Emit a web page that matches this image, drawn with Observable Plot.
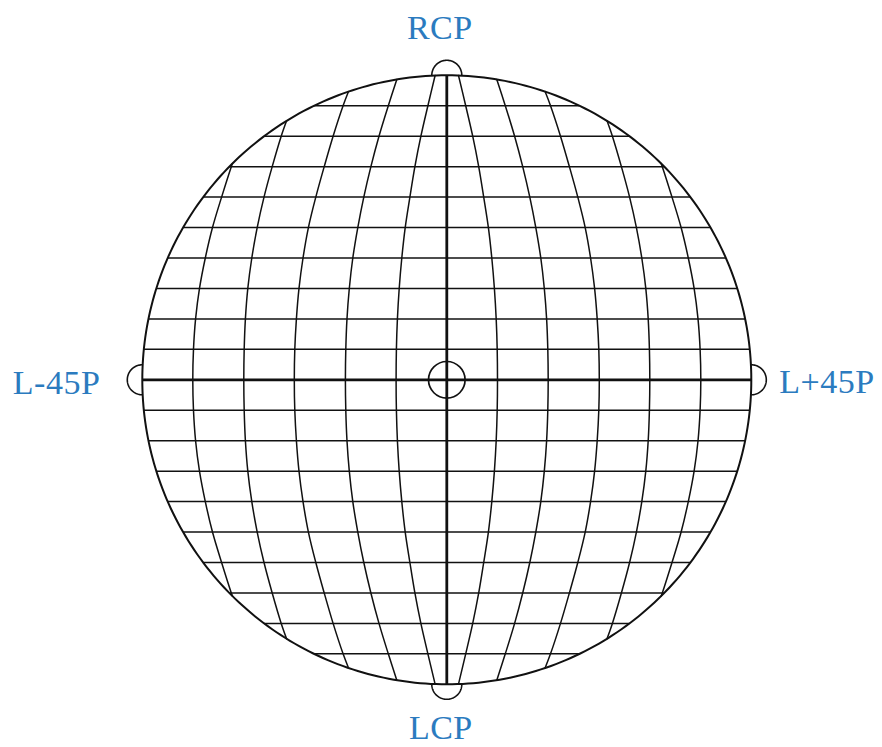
<!DOCTYPE html>
<html><head><meta charset="utf-8">
<script src="https://cdn.jsdelivr.net/npm/d3@7"></script>
<script src="https://cdn.jsdelivr.net/npm/@observablehq/plot@0.6"></script>
<style>html,body{margin:0;padding:0;background:#fff}#chart svg{display:block}</style>
</head><body><div id="chart"></div>
<script>
// Poles of the sphere (unit radius) and their labels
const poleNames = ["RCP", "LCP", "L-45P", "L+45P"];
const poleX = [0, 0, -1, 1];
const poleY = [1, -1, 0, 0];
const centerX = [0];
const centerY = [0];

// Horizontal grid lines (constant S3), in units of the radius
const parallelLevels = [-0.9, -0.8, -0.7, -0.6, -0.5, -0.4, -0.3, -0.2, -0.1, 0.1, 0.2, 0.3, 0.4, 0.5, 0.6, 0.7, 0.8, 0.9];

// Vertical grid curves: horizontal offset read at heights 0, 0.1, 0.2, ... (units of radius)
const curveLevels = [0, 0.1, 0.2, 0.3, 0.4, 0.5, 0.6, 0.7, 0.8, 0.9];
const curve1 = [0.1665, 0.1655, 0.1622, 0.1563, 0.1478, 0.1366, 0.1212, 0.1048, 0.0851, 0.0621];
const curve2 = [0.3330, 0.3317, 0.3278, 0.3202, 0.3087, 0.2923, 0.2726, 0.2493, 0.2227, 0.1921];
const curve3 = [0.5008, 0.4992, 0.4939, 0.4854, 0.4722, 0.4545, 0.4302, 0.4026, 0.3734, 0.3406];
const curve4 = [0.6667, 0.6654, 0.6614, 0.6535, 0.6404, 0.6227, 0.6003, 0.5734, 0.5438];
const curve5 = [0.8342, 0.8319, 0.8250, 0.8122, 0.7931, 0.7695, 0.7396, 0.7077];
// Where each curve meets the outer circle
const curveEndX = [0.0384, 0.1642, 0.3228, 0.5261, 0.7041];
const curveEndY = [0.9993, 0.9864, 0.9465, 0.8504, 0.7101];

// ---- build mark data ----
const R = 304.5, CX = 446.3, CY = 379.3, W = 882, H = 747;
const curves = [curve1, curve2, curve3, curve4, curve5];
const curvePts = [];
curves.forEach((vals, k) => {
  [1, -1].forEach(s => {
    const id = k + "_" + s;
    const pts = [];
    pts.push({x: s * curveEndX[k], y: -curveEndY[k]});
    for (let i = vals.length - 1; i >= 1; i--) pts.push({x: s * vals[i], y: -curveLevels[i]});
    for (let i = 0; i < vals.length; i++) pts.push({x: s * vals[i], y: curveLevels[i]});
    pts.push({x: s * curveEndX[k], y: curveEndY[k]});
    pts.forEach(p => curvePts.push({...p, id}));
  });
});

const parallels = parallelLevels.map(y => ({y, x1: -Math.sqrt(1 - y * y), x2: Math.sqrt(1 - y * y)}));
const outline = d3.range(0, 361).map(a => ({x: Math.cos(a * Math.PI / 180), y: Math.sin(a * Math.PI / 180)}));
const poles = poleNames.map((name, i) => ({name, x: poleX[i], y: poleY[i]}));
const axes = [
  {x1: poleX[2], y1: poleY[2], x2: poleX[3], y2: poleY[3]},
  {x1: poleX[0], y1: poleY[0], x2: poleX[1], y2: poleY[1]}
];
const rSmall = 15 / R;
const halfCircles = [];
poles.forEach(p => {
  const base = Math.atan2(p.y, p.x);
  d3.range(-90, 91, 3).forEach(d => {
    const a = base + d * Math.PI / 180;
    halfCircles.push({id: p.name, x: p.x + rSmall * Math.cos(a), y: p.y + rSmall * Math.sin(a)});
  });
});
const center = centerX.map((x, i) => ({x, y: centerY[i]}));

const ink = "#111";
const labelStyle = {fontFamily: "Liberation Serif", fontSize: 34, fill: "#2b7bbf", text: "name"};

const chart = Plot.plot({
  width: W, height: H,
  margin: 0,
  x: {domain: [-CX / R, (W - CX) / R], range: [0, W], axis: null},
  y: {domain: [-(H - CY) / R, CY / R], range: [H, 0], axis: null},
  style: {background: "#fff"},
  marks: [
    Plot.link(parallels, {x1: "x1", x2: "x2", y1: "y", y2: "y", stroke: ink, strokeWidth: 1.5}),
    Plot.line(curvePts, {x: "x", y: "y", z: "id", curve: "catmull-rom", stroke: ink, strokeWidth: 1.5}),
    Plot.line(outline, {x: "x", y: "y", stroke: ink, strokeWidth: 2}),
    Plot.link(axes, {x1: "x1", y1: "y1", x2: "x2", y2: "y2", stroke: ink, strokeWidth: 2.8}),
    Plot.line(halfCircles, {x: "x", y: "y", z: "id", stroke: ink, strokeWidth: 1.6}),
    Plot.dot(center, {x: "x", y: "y", r: 18.3, stroke: ink, strokeWidth: 1.7, fill: "none"}),
    Plot.text(poles.filter(d => d.name === "RCP"), {...labelStyle, x: "x", y: "y", dx: -7, dy: -47, textAnchor: "middle"}),
    Plot.text(poles.filter(d => d.name === "LCP"), {...labelStyle, x: "x", y: "y", dx: -6, dy: 44, textAnchor: "middle"}),
    Plot.text(poles.filter(d => d.name === "L-45P"), {...labelStyle, x: "x", y: "y", dx: -42, dy: 3, textAnchor: "end"}),
    Plot.text(poles.filter(d => d.name === "L+45P"), {...labelStyle, x: "x", y: "y", dx: 28, dy: 2, textAnchor: "start"})
  ]
});
chart.querySelectorAll("text").forEach(t => t.setAttribute("letter-spacing", "0.5"));
document.getElementById("chart").appendChild(chart);
</script>
</body></html>
